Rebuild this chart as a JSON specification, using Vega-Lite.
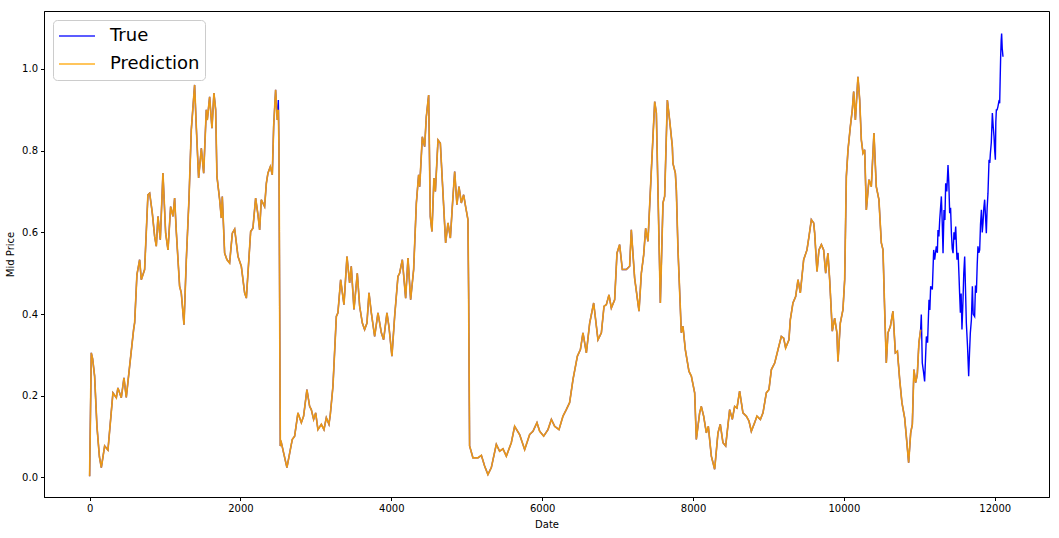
{
"$schema": "https://vega.github.io/schema/vega-lite/v6.json",
"width": 1005, "height": 486,
"autosize": {"type": "none"},
"padding": {"left": 44, "top": 11, "right": 10, "bottom": 41},
"background": "white",
"config": {
  "font": "DejaVu Sans",
  "view": {"stroke": "black", "strokeWidth": 1},
  "axis": {"grid": false, "domainColor": "black", "tickColor": "black", "labelColor": "black", "titleColor": "black", "labelFontSize": 10, "titleFontSize": 10, "titleFontWeight": "normal", "tickSize": 3.5, "labelPadding": 3, "labelFont": "DejaVu Sans", "titleFont": "DejaVu Sans"}
},
"data": {"values": [
{"Date":0,"True":0.003,"Prediction":0.003},{"Date":22,"True":0.305,"Prediction":0.305},{"Date":40,"True":0.29,"Prediction":0.29},{"Date":66,"True":0.248,"Prediction":0.248},{"Date":97,"True":0.125,"Prediction":0.125},{"Date":130,"True":0.05,"Prediction":0.05},{"Date":155,"True":0.024,"Prediction":0.024},{"Date":199,"True":0.077,"Prediction":0.077},{"Date":243,"True":0.067,"Prediction":0.067},{"Date":309,"True":0.207,"Prediction":0.207},{"Date":354,"True":0.195,"Prediction":0.195},{"Date":375,"True":0.219,"Prediction":0.219},{"Date":420,"True":0.195,"Prediction":0.195},{"Date":455,"True":0.244,"Prediction":0.244},{"Date":486,"True":0.196,"Prediction":0.196},{"Date":530,"True":0.272,"Prediction":0.272},{"Date":583,"True":0.362,"Prediction":0.362},{"Date":597,"True":0.379,"Prediction":0.379},{"Date":627,"True":0.496,"Prediction":0.496},{"Date":663,"True":0.533,"Prediction":0.533},{"Date":685,"True":0.484,"Prediction":0.484},{"Date":729,"True":0.509,"Prediction":0.509},{"Date":773,"True":0.692,"Prediction":0.692},{"Date":796,"True":0.696,"Prediction":0.696},{"Date":831,"True":0.647,"Prediction":0.647},{"Date":862,"True":0.59,"Prediction":0.59},{"Date":884,"True":0.566,"Prediction":0.566},{"Date":906,"True":0.639,"Prediction":0.639},{"Date":937,"True":0.582,"Prediction":0.582},{"Date":972,"True":0.745,"Prediction":0.745},{"Date":1008,"True":0.598,"Prediction":0.598},{"Date":1039,"True":0.557,"Prediction":0.557},{"Date":1074,"True":0.663,"Prediction":0.663},{"Date":1105,"True":0.639,"Prediction":0.639},{"Date":1127,"True":0.684,"Prediction":0.684},{"Date":1149,"True":0.602,"Prediction":0.602},{"Date":1193,"True":0.468,"Prediction":0.468},{"Date":1215,"True":0.452,"Prediction":0.452},{"Date":1251,"True":0.374,"Prediction":0.374},{"Date":1282,"True":0.533,"Prediction":0.533},{"Date":1317,"True":0.68,"Prediction":0.68},{"Date":1348,"True":0.851,"Prediction":0.851},{"Date":1392,"True":0.961,"Prediction":0.961},{"Date":1414,"True":0.859,"Prediction":0.859},{"Date":1445,"True":0.733,"Prediction":0.733},{"Date":1481,"True":0.806,"Prediction":0.806},{"Date":1512,"True":0.745,"Prediction":0.745},{"Date":1547,"True":0.9,"Prediction":0.9},{"Date":1560,"True":0.875,"Prediction":0.875},{"Date":1591,"True":0.932,"Prediction":0.932},{"Date":1622,"True":0.855,"Prediction":0.855},{"Date":1648,"True":0.941,"Prediction":0.941},{"Date":1671,"True":0.9,"Prediction":0.9},{"Date":1688,"True":0.737,"Prediction":0.737},{"Date":1724,"True":0.68,"Prediction":0.68},{"Date":1746,"True":0.635,"Prediction":0.635},{"Date":1759,"True":0.688,"Prediction":0.688},{"Date":1790,"True":0.549,"Prediction":0.549},{"Date":1821,"True":0.533,"Prediction":0.533},{"Date":1856,"True":0.525,"Prediction":0.525},{"Date":1892,"True":0.598,"Prediction":0.598},{"Date":1923,"True":0.608,"Prediction":0.608},{"Date":1967,"True":0.541,"Prediction":0.541},{"Date":2011,"True":0.517,"Prediction":0.517},{"Date":2055,"True":0.452,"Prediction":0.452},{"Date":2078,"True":0.439,"Prediction":0.439},{"Date":2135,"True":0.602,"Prediction":0.602},{"Date":2165,"True":0.61,"Prediction":0.61},{"Date":2201,"True":0.684,"Prediction":0.684},{"Date":2232,"True":0.643,"Prediction":0.643},{"Date":2254,"True":0.606,"Prediction":0.606},{"Date":2276,"True":0.68,"Prediction":0.68},{"Date":2320,"True":0.663,"Prediction":0.663},{"Date":2343,"True":0.72,"Prediction":0.72},{"Date":2364,"True":0.745,"Prediction":0.745},{"Date":2396,"True":0.761,"Prediction":0.761},{"Date":2422,"True":0.741,"Prediction":0.741},{"Date":2440,"True":0.859,"Prediction":0.859},{"Date":2466,"True":0.949,"Prediction":0.949},{"Date":2488,"True":0.875,"Prediction":0.875},{"Date":2502,"True":0.924,"Prediction":0.9},{"Date":2510,"True":0.818,"Prediction":0.818},{"Date":2528,"True":0.077,"Prediction":0.077},{"Date":2542,"True":0.085,"Prediction":0.085},{"Date":2572,"True":0.06,"Prediction":0.06},{"Date":2616,"True":0.024,"Prediction":0.024},{"Date":2661,"True":0.068,"Prediction":0.068},{"Date":2687,"True":0.093,"Prediction":0.093},{"Date":2718,"True":0.101,"Prediction":0.101},{"Date":2762,"True":0.158,"Prediction":0.158},{"Date":2807,"True":0.134,"Prediction":0.134},{"Date":2837,"True":0.15,"Prediction":0.15},{"Date":2881,"True":0.215,"Prediction":0.215},{"Date":2917,"True":0.174,"Prediction":0.174},{"Date":2939,"True":0.166,"Prediction":0.166},{"Date":2970,"True":0.142,"Prediction":0.142},{"Date":2997,"True":0.158,"Prediction":0.158},{"Date":3027,"True":0.117,"Prediction":0.117},{"Date":3072,"True":0.13,"Prediction":0.13},{"Date":3107,"True":0.117,"Prediction":0.117},{"Date":3138,"True":0.146,"Prediction":0.146},{"Date":3173,"True":0.13,"Prediction":0.13},{"Date":3191,"True":0.154,"Prediction":0.154},{"Date":3226,"True":0.223,"Prediction":0.223},{"Date":3271,"True":0.394,"Prediction":0.394},{"Date":3292,"True":0.403,"Prediction":0.403},{"Date":3328,"True":0.484,"Prediction":0.484},{"Date":3372,"True":0.423,"Prediction":0.423},{"Date":3412,"True":0.541,"Prediction":0.541},{"Date":3447,"True":0.476,"Prediction":0.476},{"Date":3469,"True":0.517,"Prediction":0.517},{"Date":3505,"True":0.411,"Prediction":0.411},{"Date":3549,"True":0.5,"Prediction":0.5},{"Date":3580,"True":0.419,"Prediction":0.419},{"Date":3616,"True":0.378,"Prediction":0.378},{"Date":3646,"True":0.362,"Prediction":0.362},{"Date":3677,"True":0.378,"Prediction":0.378},{"Date":3704,"True":0.452,"Prediction":0.452},{"Date":3735,"True":0.403,"Prediction":0.403},{"Date":3779,"True":0.345,"Prediction":0.345},{"Date":3823,"True":0.403,"Prediction":0.403},{"Date":3868,"True":0.354,"Prediction":0.354},{"Date":3898,"True":0.337,"Prediction":0.337},{"Date":3942,"True":0.403,"Prediction":0.403},{"Date":3968,"True":0.37,"Prediction":0.37},{"Date":4008,"True":0.297,"Prediction":0.297},{"Date":4044,"True":0.394,"Prediction":0.394},{"Date":4088,"True":0.492,"Prediction":0.492},{"Date":4110,"True":0.5,"Prediction":0.5},{"Date":4146,"True":0.533,"Prediction":0.533},{"Date":4190,"True":0.439,"Prediction":0.439},{"Date":4221,"True":0.537,"Prediction":0.537},{"Date":4256,"True":0.435,"Prediction":0.435},{"Date":4296,"True":0.509,"Prediction":0.509},{"Date":4332,"True":0.672,"Prediction":0.672},{"Date":4362,"True":0.741,"Prediction":0.741},{"Date":4376,"True":0.712,"Prediction":0.712},{"Date":4411,"True":0.834,"Prediction":0.834},{"Date":4442,"True":0.81,"Prediction":0.81},{"Date":4464,"True":0.883,"Prediction":0.883},{"Date":4495,"True":0.936,"Prediction":0.936},{"Date":4517,"True":0.639,"Prediction":0.639},{"Date":4539,"True":0.602,"Prediction":0.602},{"Date":4565,"True":0.733,"Prediction":0.733},{"Date":4584,"True":0.7,"Prediction":0.7},{"Date":4619,"True":0.826,"Prediction":0.826},{"Date":4650,"True":0.818,"Prediction":0.818},{"Date":4685,"True":0.696,"Prediction":0.696},{"Date":4720,"True":0.574,"Prediction":0.574},{"Date":4751,"True":0.623,"Prediction":0.623},{"Date":4783,"True":0.586,"Prediction":0.586},{"Date":4809,"True":0.663,"Prediction":0.663},{"Date":4840,"True":0.749,"Prediction":0.749},{"Date":4870,"True":0.668,"Prediction":0.668},{"Date":4897,"True":0.712,"Prediction":0.712},{"Date":4928,"True":0.672,"Prediction":0.672},{"Date":4959,"True":0.692,"Prediction":0.692},{"Date":4985,"True":0.663,"Prediction":0.663},{"Date":5016,"True":0.631,"Prediction":0.631},{"Date":5025,"True":0.452,"Prediction":0.452},{"Date":5038,"True":0.077,"Prediction":0.077},{"Date":5082,"True":0.048,"Prediction":0.048},{"Date":5149,"True":0.048,"Prediction":0.048},{"Date":5194,"True":0.054,"Prediction":0.054},{"Date":5237,"True":0.028,"Prediction":0.028},{"Date":5281,"True":0.007,"Prediction":0.007},{"Date":5326,"True":0.024,"Prediction":0.024},{"Date":5392,"True":0.081,"Prediction":0.081},{"Date":5436,"True":0.064,"Prediction":0.064},{"Date":5480,"True":0.07,"Prediction":0.07},{"Date":5525,"True":0.052,"Prediction":0.052},{"Date":5591,"True":0.085,"Prediction":0.085},{"Date":5635,"True":0.125,"Prediction":0.125},{"Date":5701,"True":0.105,"Prediction":0.105},{"Date":5768,"True":0.068,"Prediction":0.068},{"Date":5834,"True":0.105,"Prediction":0.105},{"Date":5878,"True":0.113,"Prediction":0.113},{"Date":5931,"True":0.134,"Prediction":0.134},{"Date":5967,"True":0.113,"Prediction":0.113},{"Date":6020,"True":0.101,"Prediction":0.101},{"Date":6077,"True":0.117,"Prediction":0.117},{"Date":6122,"True":0.142,"Prediction":0.142},{"Date":6166,"True":0.125,"Prediction":0.125},{"Date":6223,"True":0.117,"Prediction":0.117},{"Date":6276,"True":0.15,"Prediction":0.15},{"Date":6320,"True":0.166,"Prediction":0.166},{"Date":6364,"True":0.183,"Prediction":0.183},{"Date":6409,"True":0.24,"Prediction":0.24},{"Date":6467,"True":0.297,"Prediction":0.297},{"Date":6507,"True":0.313,"Prediction":0.313},{"Date":6541,"True":0.354,"Prediction":0.354},{"Date":6586,"True":0.305,"Prediction":0.305},{"Date":6630,"True":0.378,"Prediction":0.378},{"Date":6683,"True":0.427,"Prediction":0.427},{"Date":6740,"True":0.337,"Prediction":0.337},{"Date":6785,"True":0.354,"Prediction":0.354},{"Date":6820,"True":0.419,"Prediction":0.419},{"Date":6851,"True":0.423,"Prediction":0.423},{"Date":6886,"True":0.447,"Prediction":0.447},{"Date":6917,"True":0.415,"Prediction":0.415},{"Date":6961,"True":0.435,"Prediction":0.435},{"Date":6992,"True":0.549,"Prediction":0.549},{"Date":7027,"True":0.57,"Prediction":0.57},{"Date":7063,"True":0.509,"Prediction":0.509},{"Date":7116,"True":0.509,"Prediction":0.509},{"Date":7160,"True":0.517,"Prediction":0.517},{"Date":7182,"True":0.606,"Prediction":0.606},{"Date":7226,"True":0.488,"Prediction":0.488},{"Date":7284,"True":0.407,"Prediction":0.407},{"Date":7315,"True":0.5,"Prediction":0.5},{"Date":7346,"True":0.545,"Prediction":0.545},{"Date":7372,"True":0.61,"Prediction":0.61},{"Date":7403,"True":0.578,"Prediction":0.578},{"Date":7448,"True":0.753,"Prediction":0.753},{"Date":7492,"True":0.92,"Prediction":0.92},{"Date":7514,"True":0.892,"Prediction":0.892},{"Date":7536,"True":0.696,"Prediction":0.696},{"Date":7567,"True":0.427,"Prediction":0.427},{"Date":7602,"True":0.672,"Prediction":0.672},{"Date":7624,"True":0.688,"Prediction":0.688},{"Date":7660,"True":0.924,"Prediction":0.924},{"Date":7690,"True":0.875,"Prediction":0.875},{"Date":7726,"True":0.81,"Prediction":0.81},{"Date":7734,"True":0.769,"Prediction":0.769},{"Date":7766,"True":0.745,"Prediction":0.745},{"Date":7779,"True":0.704,"Prediction":0.704},{"Date":7801,"True":0.557,"Prediction":0.557},{"Date":7845,"True":0.354,"Prediction":0.354},{"Date":7867,"True":0.37,"Prediction":0.37},{"Date":7898,"True":0.313,"Prediction":0.313},{"Date":7946,"True":0.26,"Prediction":0.26},{"Date":7978,"True":0.248,"Prediction":0.248},{"Date":8022,"True":0.207,"Prediction":0.207},{"Date":8044,"True":0.093,"Prediction":0.093},{"Date":8088,"True":0.158,"Prediction":0.158},{"Date":8110,"True":0.174,"Prediction":0.174},{"Date":8141,"True":0.15,"Prediction":0.15},{"Date":8177,"True":0.109,"Prediction":0.109},{"Date":8203,"True":0.125,"Prediction":0.125},{"Date":8243,"True":0.052,"Prediction":0.052},{"Date":8287,"True":0.02,"Prediction":0.02},{"Date":8331,"True":0.109,"Prediction":0.109},{"Date":8362,"True":0.13,"Prediction":0.13},{"Date":8397,"True":0.085,"Prediction":0.085},{"Date":8433,"True":0.077,"Prediction":0.077},{"Date":8486,"True":0.166,"Prediction":0.166},{"Date":8521,"True":0.142,"Prediction":0.142},{"Date":8552,"True":0.174,"Prediction":0.174},{"Date":8583,"True":0.17,"Prediction":0.17},{"Date":8618,"True":0.211,"Prediction":0.211},{"Date":8662,"True":0.158,"Prediction":0.158},{"Date":8707,"True":0.15,"Prediction":0.15},{"Date":8742,"True":0.138,"Prediction":0.138},{"Date":8773,"True":0.113,"Prediction":0.113},{"Date":8817,"True":0.134,"Prediction":0.134},{"Date":8848,"True":0.15,"Prediction":0.15},{"Date":8893,"True":0.142,"Prediction":0.142},{"Date":8928,"True":0.158,"Prediction":0.158},{"Date":8972,"True":0.207,"Prediction":0.207},{"Date":9007,"True":0.215,"Prediction":0.215},{"Date":9039,"True":0.264,"Prediction":0.264},{"Date":9083,"True":0.28,"Prediction":0.28},{"Date":9127,"True":0.313,"Prediction":0.313},{"Date":9171,"True":0.345,"Prediction":0.345},{"Date":9202,"True":0.341,"Prediction":0.341},{"Date":9228,"True":0.317,"Prediction":0.317},{"Date":9272,"True":0.337,"Prediction":0.337},{"Date":9290,"True":0.386,"Prediction":0.386},{"Date":9325,"True":0.427,"Prediction":0.427},{"Date":9361,"True":0.443,"Prediction":0.443},{"Date":9392,"True":0.484,"Prediction":0.484},{"Date":9423,"True":0.452,"Prediction":0.452},{"Date":9467,"True":0.533,"Prediction":0.533},{"Date":9511,"True":0.557,"Prediction":0.557},{"Date":9538,"True":0.59,"Prediction":0.59},{"Date":9569,"True":0.631,"Prediction":0.631},{"Date":9600,"True":0.623,"Prediction":0.623},{"Date":9613,"True":0.598,"Prediction":0.598},{"Date":9644,"True":0.504,"Prediction":0.504},{"Date":9670,"True":0.557,"Prediction":0.557},{"Date":9702,"True":0.57,"Prediction":0.57},{"Date":9732,"True":0.557,"Prediction":0.557},{"Date":9759,"True":0.5,"Prediction":0.5},{"Date":9789,"True":0.549,"Prediction":0.549},{"Date":9812,"True":0.484,"Prediction":0.484},{"Date":9847,"True":0.358,"Prediction":0.358},{"Date":9878,"True":0.39,"Prediction":0.39},{"Date":9908,"True":0.354,"Prediction":0.354},{"Date":9922,"True":0.284,"Prediction":0.284},{"Date":9953,"True":0.378,"Prediction":0.378},{"Date":9988,"True":0.411,"Prediction":0.411},{"Date":10011,"True":0.484,"Prediction":0.484},{"Date":10033,"True":0.737,"Prediction":0.737},{"Date":10055,"True":0.802,"Prediction":0.802},{"Date":10086,"True":0.859,"Prediction":0.859},{"Date":10112,"True":0.9,"Prediction":0.9},{"Date":10130,"True":0.945,"Prediction":0.945},{"Date":10153,"True":0.875,"Prediction":0.875},{"Date":10187,"True":0.981,"Prediction":0.981},{"Date":10210,"True":0.924,"Prediction":0.924},{"Date":10232,"True":0.826,"Prediction":0.826},{"Date":10254,"True":0.794,"Prediction":0.794},{"Date":10276,"True":0.802,"Prediction":0.802},{"Date":10298,"True":0.655,"Prediction":0.655},{"Date":10333,"True":0.729,"Prediction":0.729},{"Date":10364,"True":0.712,"Prediction":0.712},{"Date":10399,"True":0.843,"Prediction":0.843},{"Date":10430,"True":0.712,"Prediction":0.712},{"Date":10465,"True":0.68,"Prediction":0.68},{"Date":10497,"True":0.574,"Prediction":0.574},{"Date":10519,"True":0.557,"Prediction":0.557},{"Date":10541,"True":0.411,"Prediction":0.411},{"Date":10563,"True":0.28,"Prediction":0.28},{"Date":10585,"True":0.354,"Prediction":0.354},{"Date":10617,"True":0.37,"Prediction":0.37},{"Date":10651,"True":0.407,"Prediction":0.407},{"Date":10683,"True":0.305,"Prediction":0.305},{"Date":10710,"True":0.309,"Prediction":0.309},{"Date":10740,"True":0.24,"Prediction":0.24},{"Date":10770,"True":0.183,"Prediction":0.183},{"Date":10806,"True":0.146,"Prediction":0.146},{"Date":10828,"True":0.101,"Prediction":0.101},{"Date":10859,"True":0.036,"Prediction":0.036},{"Date":10886,"True":0.109,"Prediction":0.109},{"Date":10908,"True":0.13,"Prediction":0.13},{"Date":10929,"True":0.264,"Prediction":0.264},{"Date":10952,"True":0.232,"Prediction":0.232},{"Date":10974,"True":0.252,"Prediction":0.252},{"Date":10995,"True":0.329,"Prediction":0.329},{"Date":11018,"True":0.362,"Prediction":0.362},
{"Date":11027,"True":0.399},{"Date":11040,"True":0.28},{"Date":11055,"True":0.26},{"Date":11071,"True":0.235},{"Date":11094,"True":0.345},{"Date":11110,"True":0.33},{"Date":11129,"True":0.435},{"Date":11140,"True":0.41},{"Date":11151,"True":0.468},{"Date":11173,"True":0.46},{"Date":11191,"True":0.557},{"Date":11204,"True":0.533},{"Date":11226,"True":0.566},{"Date":11240,"True":0.55},{"Date":11248,"True":0.606},{"Date":11260,"True":0.59},{"Date":11271,"True":0.631},{"Date":11293,"True":0.688},{"Date":11305,"True":0.62},{"Date":11315,"True":0.549},{"Date":11328,"True":0.655},{"Date":11340,"True":0.63},{"Date":11350,"True":0.72},{"Date":11365,"True":0.7},{"Date":11381,"True":0.765},{"Date":11392,"True":0.72},{"Date":11403,"True":0.647},{"Date":11415,"True":0.66},{"Date":11426,"True":0.598},{"Date":11437,"True":0.56},{"Date":11448,"True":0.549},{"Date":11460,"True":0.6},{"Date":11470,"True":0.582},{"Date":11483,"True":0.614},{"Date":11500,"True":0.533},{"Date":11515,"True":0.55},{"Date":11527,"True":0.492},{"Date":11535,"True":0.45},{"Date":11545,"True":0.403},{"Date":11555,"True":0.45},{"Date":11566,"True":0.362},{"Date":11580,"True":0.435},{"Date":11590,"True":0.5},{"Date":11602,"True":0.541},{"Date":11613,"True":0.46},{"Date":11624,"True":0.378},{"Date":11640,"True":0.32},{"Date":11655,"True":0.248},{"Date":11665,"True":0.3},{"Date":11677,"True":0.354},{"Date":11691,"True":0.386},{"Date":11704,"True":0.468},{"Date":11715,"True":0.4},{"Date":11734,"True":0.394},{"Date":11745,"True":0.47},{"Date":11757,"True":0.452},{"Date":11768,"True":0.52},{"Date":11778,"True":0.566},{"Date":11790,"True":0.55},{"Date":11801,"True":0.557},{"Date":11812,"True":0.62},{"Date":11824,"True":0.655},{"Date":11835,"True":0.6},{"Date":11845,"True":0.623},{"Date":11856,"True":0.66},{"Date":11867,"True":0.68},{"Date":11878,"True":0.64},{"Date":11889,"True":0.598},{"Date":11900,"True":0.66},{"Date":11911,"True":0.696},{"Date":11925,"True":0.778},{"Date":11935,"True":0.77},{"Date":11943,"True":0.794},{"Date":11955,"True":0.82},{"Date":11969,"True":0.892},{"Date":11980,"True":0.86},{"Date":11991,"True":0.835},{"Date":12000,"True":0.8},{"Date":12009,"True":0.778},{"Date":12015,"True":0.87},{"Date":12022,"True":0.9},{"Date":12032,"True":0.9},{"Date":12043,"True":0.908},{"Date":12055,"True":0.92},{"Date":12066,"True":0.916},{"Date":12072,"True":0.97},{"Date":12079,"True":1.03},{"Date":12086,"True":1.07},{"Date":12092,"True":1.087},{"Date":12100,"True":1.05},{"Date":12110,"True":1.03}
]},
"transform": [{"fold": ["True", "Prediction"], "as": ["series", "price"]}, {"filter": "isValid(datum.price)"}],
"encoding": {
  "x": {"field": "Date", "type": "quantitative", "scale": {"domain": [-605, 12720], "nice": false, "zero": false}, "axis": {"title": "Date", "values": [0,2000,4000,6000,8000,10000,12000], "format": "d", "titlePadding": 6}},
  "y": {"field": "price", "type": "quantitative", "scale": {"domain": [-0.048, 1.142], "nice": false, "zero": false}, "axis": {"title": "Mid Price", "values": [0,0.2,0.4,0.6,0.8,1.0], "format": ".1f", "titlePadding": 6}},
  "color": {"field": "series", "type": "nominal", "scale": {"domain": ["True", "Prediction"], "range": ["#0000ff", "#ffa500"]},
    "legend": {"title": null, "orient": "top-left", "offset": 9, "labelFontSize": 18, "labelFont": "DejaVu Sans", "labelColor": "black", "symbolType": "stroke", "symbolSize": 1300, "symbolStrokeWidth": 1.6, "symbolOpacity": 0.85, "clipHeight": 22, "rowPadding": 6, "labelOffset": 14, "fillColor": "white", "strokeColor": "#cccccc", "cornerRadius": 4, "padding": 5}}
},
"layer": [
  {"transform": [{"filter": "datum.series == 'True'"}], "mark": {"type": "line", "strokeWidth": 1.4, "clip": true}},
  {"transform": [{"filter": "datum.series == 'Prediction'"}], "mark": {"type": "line", "strokeWidth": 1.7, "opacity": 0.9, "clip": true}}
]
}
